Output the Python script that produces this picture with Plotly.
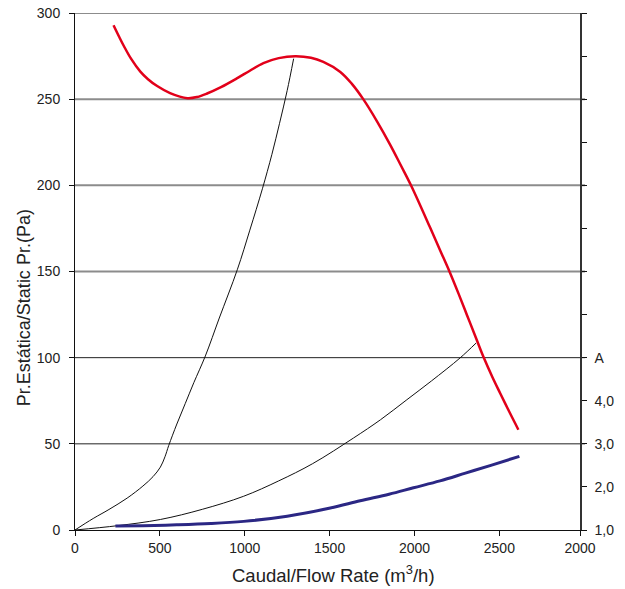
import plotly.graph_objects as go

# ---- data ----
fan_flow = [227, 260, 287, 330, 385, 430, 484, 560, 662, 720, 778, 860, 956, 1030, 1110, 1200,
            1298, 1390, 1463, 1563, 1630, 1698, 1780, 1857, 1920, 1982, 2092, 2150, 2206, 2260,
            2310, 2360, 2406, 2460, 2504, 2560, 2612]
fan_pa = [292.9, 286.2, 281.0, 273.5, 266.0, 261.6, 257.6, 253.5, 250.6, 251.3, 253.3, 257.0,
          262.2, 266.5, 270.9, 273.8, 274.9, 274.0, 271.6, 265.8, 259.0, 250.0, 237.0, 223.5,
          211.5, 199.5, 175.5, 162.5, 150.0, 137.0, 124.5, 112.0, 100.5, 88.5, 79.5, 68.3, 58.2]

sys1_flow = [0, 60, 111, 200, 307, 400, 460, 503, 530, 552, 600, 650, 700, 768, 850, 956,
             1030, 1104, 1160, 1205, 1250, 1288]
sys1_pa = [0, 3.8, 6.9, 11.9, 18.5, 25.5, 31.0, 36.5, 42.5, 49.0, 61.5, 73.5, 85.5, 101.0,
           123.0, 151.0, 174.0, 198.0, 218.0, 236.0, 255.0, 273.5]

sys2_flow = [0, 250, 503, 750, 994, 1200, 1400, 1641, 1800, 1955, 2100, 2268, 2363]
sys2_pa = [0, 2.5, 6.1, 12.0, 19.6, 28.5, 38.5, 53.4, 64.0, 75.6, 86.5, 99.8, 108.5]

amp_flow = [238, 400, 600, 800, 994, 1250, 1504, 1680, 1850, 1994, 2150, 2300, 2450, 2618]
amp_a = [1.09, 1.10, 1.12, 1.15, 1.20, 1.32, 1.51, 1.68, 1.83, 1.98, 2.14, 2.32, 2.50, 2.71]

x_tickvals = [0, 500, 1000, 1500, 2000, 2500, 2975]
x_ticktext = ["0", "500", "1000", "1500", "2000", "2500", "2000"]
y_tickvals = [0, 50, 100, 150, 200, 250, 300]
y2_tickvals = list(range(1, 14))
y2_ticktext = ["1,0", "2,0", "3,0", "4,0", "A"] + [""] * 8
grid_light = [150, 200, 250, 300]
grid_dark = [50, 100]

FONT = "Liberation Sans, Arial, Helvetica, sans-serif"

fig = go.Figure()
fig.add_trace(go.Scatter(x=sys1_flow, y=sys1_pa, mode="lines",
                         line=dict(color="#111111", width=1, shape="spline", smoothing=1)))
fig.add_trace(go.Scatter(x=sys2_flow, y=sys2_pa, mode="lines",
                         line=dict(color="#111111", width=1, shape="spline", smoothing=1)))
fig.add_trace(go.Scatter(x=fan_flow, y=fan_pa, mode="lines",
                         line=dict(color="#e2001a", width=2.5, shape="spline", smoothing=1)))
fig.add_trace(go.Scatter(x=amp_flow, y=amp_a, mode="lines", yaxis="y2",
                         line=dict(color="#2b2784", width=3, shape="spline", smoothing=1)))

shapes = []
for v in grid_light:
    shapes.append(dict(type="line", xref="paper", yref="y", x0=0, x1=1.01, y0=v, y1=v,
                       line=dict(color="#8c8c8c", width=2), layer="below"))
for v in grid_dark:
    shapes.append(dict(type="line", xref="paper", yref="y", x0=0, x1=1.01, y0=v, y1=v,
                       line=dict(color="#222222", width=1), layer="below"))

annotations = [
    dict(text="Caudal/Flow Rate (m<sup>3</sup>/h)", xref="paper", yref="paper",
         x=0.5114, y=-0.086, xanchor="center", yanchor="middle", showarrow=False,
         font=dict(size=18.5, color="#222222")),
    dict(text="Pr.Estática/Static Pr.(Pa)", xref="paper", yref="paper",
         x=-0.102, y=0.43, xanchor="center", yanchor="middle", showarrow=False,
         textangle=-90, font=dict(size=18, color="#222222")),
]

fig.update_layout(
    width=625, height=589,
    margin=dict(l=74.5, r=45, t=12.7, b=58.5, autoexpand=False),
    paper_bgcolor="white", plot_bgcolor="white",
    showlegend=False,
    font=dict(family=FONT, size=14, color="#222222"),
    shapes=shapes,
    annotations=annotations,
    xaxis=dict(range=[0, 2975], tickvals=x_tickvals, ticktext=x_ticktext, automargin=False,
               ticks="outside", ticklen=5, tickcolor="#111", showline=True,
               linecolor="#111", linewidth=1, showgrid=False, zeroline=False),
    yaxis=dict(range=[0, 300], tickvals=y_tickvals, ticks="outside", ticklen=5, automargin=False,
               tickcolor="#111", showline=True, linecolor="#111", linewidth=1,
               showgrid=False, zeroline=False, ticklabelstandoff=6),
    yaxis2=dict(range=[1, 13], overlaying="y", side="right", anchor="x", automargin=False,
                tickvals=y2_tickvals, ticktext=y2_ticktext, ticks="outside", ticklen=5,
                tickcolor="#111", showline=True, linecolor="#333", linewidth=1.5,
                showgrid=False, zeroline=False, ticklabelstandoff=5),
    yaxis3=dict(range=[1, 13], overlaying="y", side="right", anchor="x", automargin=False,
                tickvals=y2_tickvals, ticks="inside", ticklen=4, tickcolor="#111",
                showticklabels=False, showline=False, showgrid=False, zeroline=False),
)
fig.write_html("out.html", config={"displayModeBar": False},
               post_script="document.body.style.margin='0';")
